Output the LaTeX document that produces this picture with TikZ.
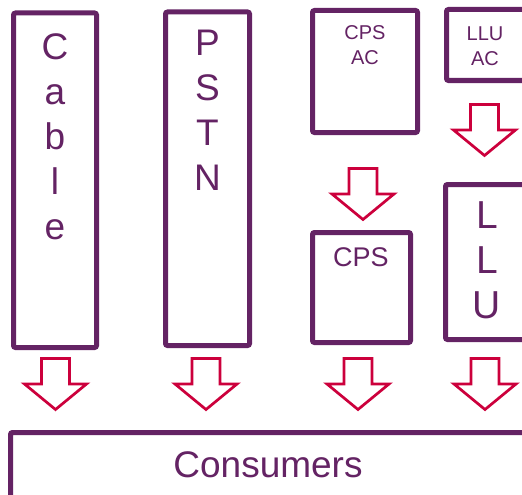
\documentclass[tikz,border=0pt]{standalone}
\usepackage{fontspec}
\setmainfont{Liberation Sans}
\definecolor{pur}{RGB}{100,35,100}
\definecolor{crim}{RGB}{204,0,60}
\begin{document}
\begin{tikzpicture}[x=1pt,y=-1pt,
  box/.style={draw=pur, line width=5pt, rounded corners=2pt, inner sep=0pt, outer sep=0pt, fill=white},
  lbl/.style={text=pur, inner sep=0pt, outer sep=0pt, align=center},
  blockarrow/.pic={\draw[draw=crim, line width=2.7pt, fill=white, line join=miter]
    (-14,0) -- (14,0) -- (14,25.5) -- (31,25.5) -- (0,51) -- (-31,25.5) -- (-14,25.5) -- cycle;}
]
\useasboundingbox (0,0) rectangle (522,495);
\clip (0,0) rectangle (522,495);
% boxes
\node[box, minimum width=83pt, minimum height=334.5pt] (cable) at (55,180.25) {};
\node[box, minimum width=84pt, minimum height=333.5pt] (pstn) at (207.5,178.75) {};
\node[box, minimum width=105pt, minimum height=122pt] (cpsac) at (365,71.5) {};
\node[box, minimum width=94pt, minimum height=71pt] (lluac) at (493.5,45) {};
\node[box, minimum width=98pt, minimum height=110pt] (cps) at (361.5,287.5) {};
\node[box, minimum width=95pt, minimum height=155pt] (llu) at (493,262) {};
\node[box, minimum width=530pt, minimum height=88pt] (consumers) at (275.5,476.5) {};
% labels
\node[lbl, anchor=north, font=\fontsize{37}{45}\selectfont] (cableT) at (55,33.3) {C\\a\\b\\l\\e};
\node[lbl, anchor=north, font=\fontsize{37}{45}\selectfont] (pstnT) at (207.5,30.5) {P\\S\\T\\N};
\node[lbl, anchor=north, font=\fontsize{20}{25}\selectfont] (cpsacT) at (365,26) {CPS\\AC};
\node[lbl, anchor=north, font=\fontsize{20}{25}\selectfont] (lluacT) at (485,26.5) {LLU\\AC};
\node[lbl, anchor=north, font=\fontsize{27}{32}\selectfont] (cpsT) at (361,248) {CPS};
\node[lbl, anchor=north, font=\fontsize{39}{45}\selectfont] (lluT) at (487,202) {L\\L\\U};
\node[lbl, anchor=base, font=\fontsize{37}{45}\selectfont] (consT) at (268,477.5) {Consumers};
% block arrows
\pic at (55.5,358.5) {blockarrow};
\pic at (206,358.5) {blockarrow};
\pic at (358,358.5) {blockarrow};
\pic at (485,358.5) {blockarrow};
\pic at (363,168.5) {blockarrow};
\pic at (484.5,104.5) {blockarrow};
\end{tikzpicture}
\end{document}
